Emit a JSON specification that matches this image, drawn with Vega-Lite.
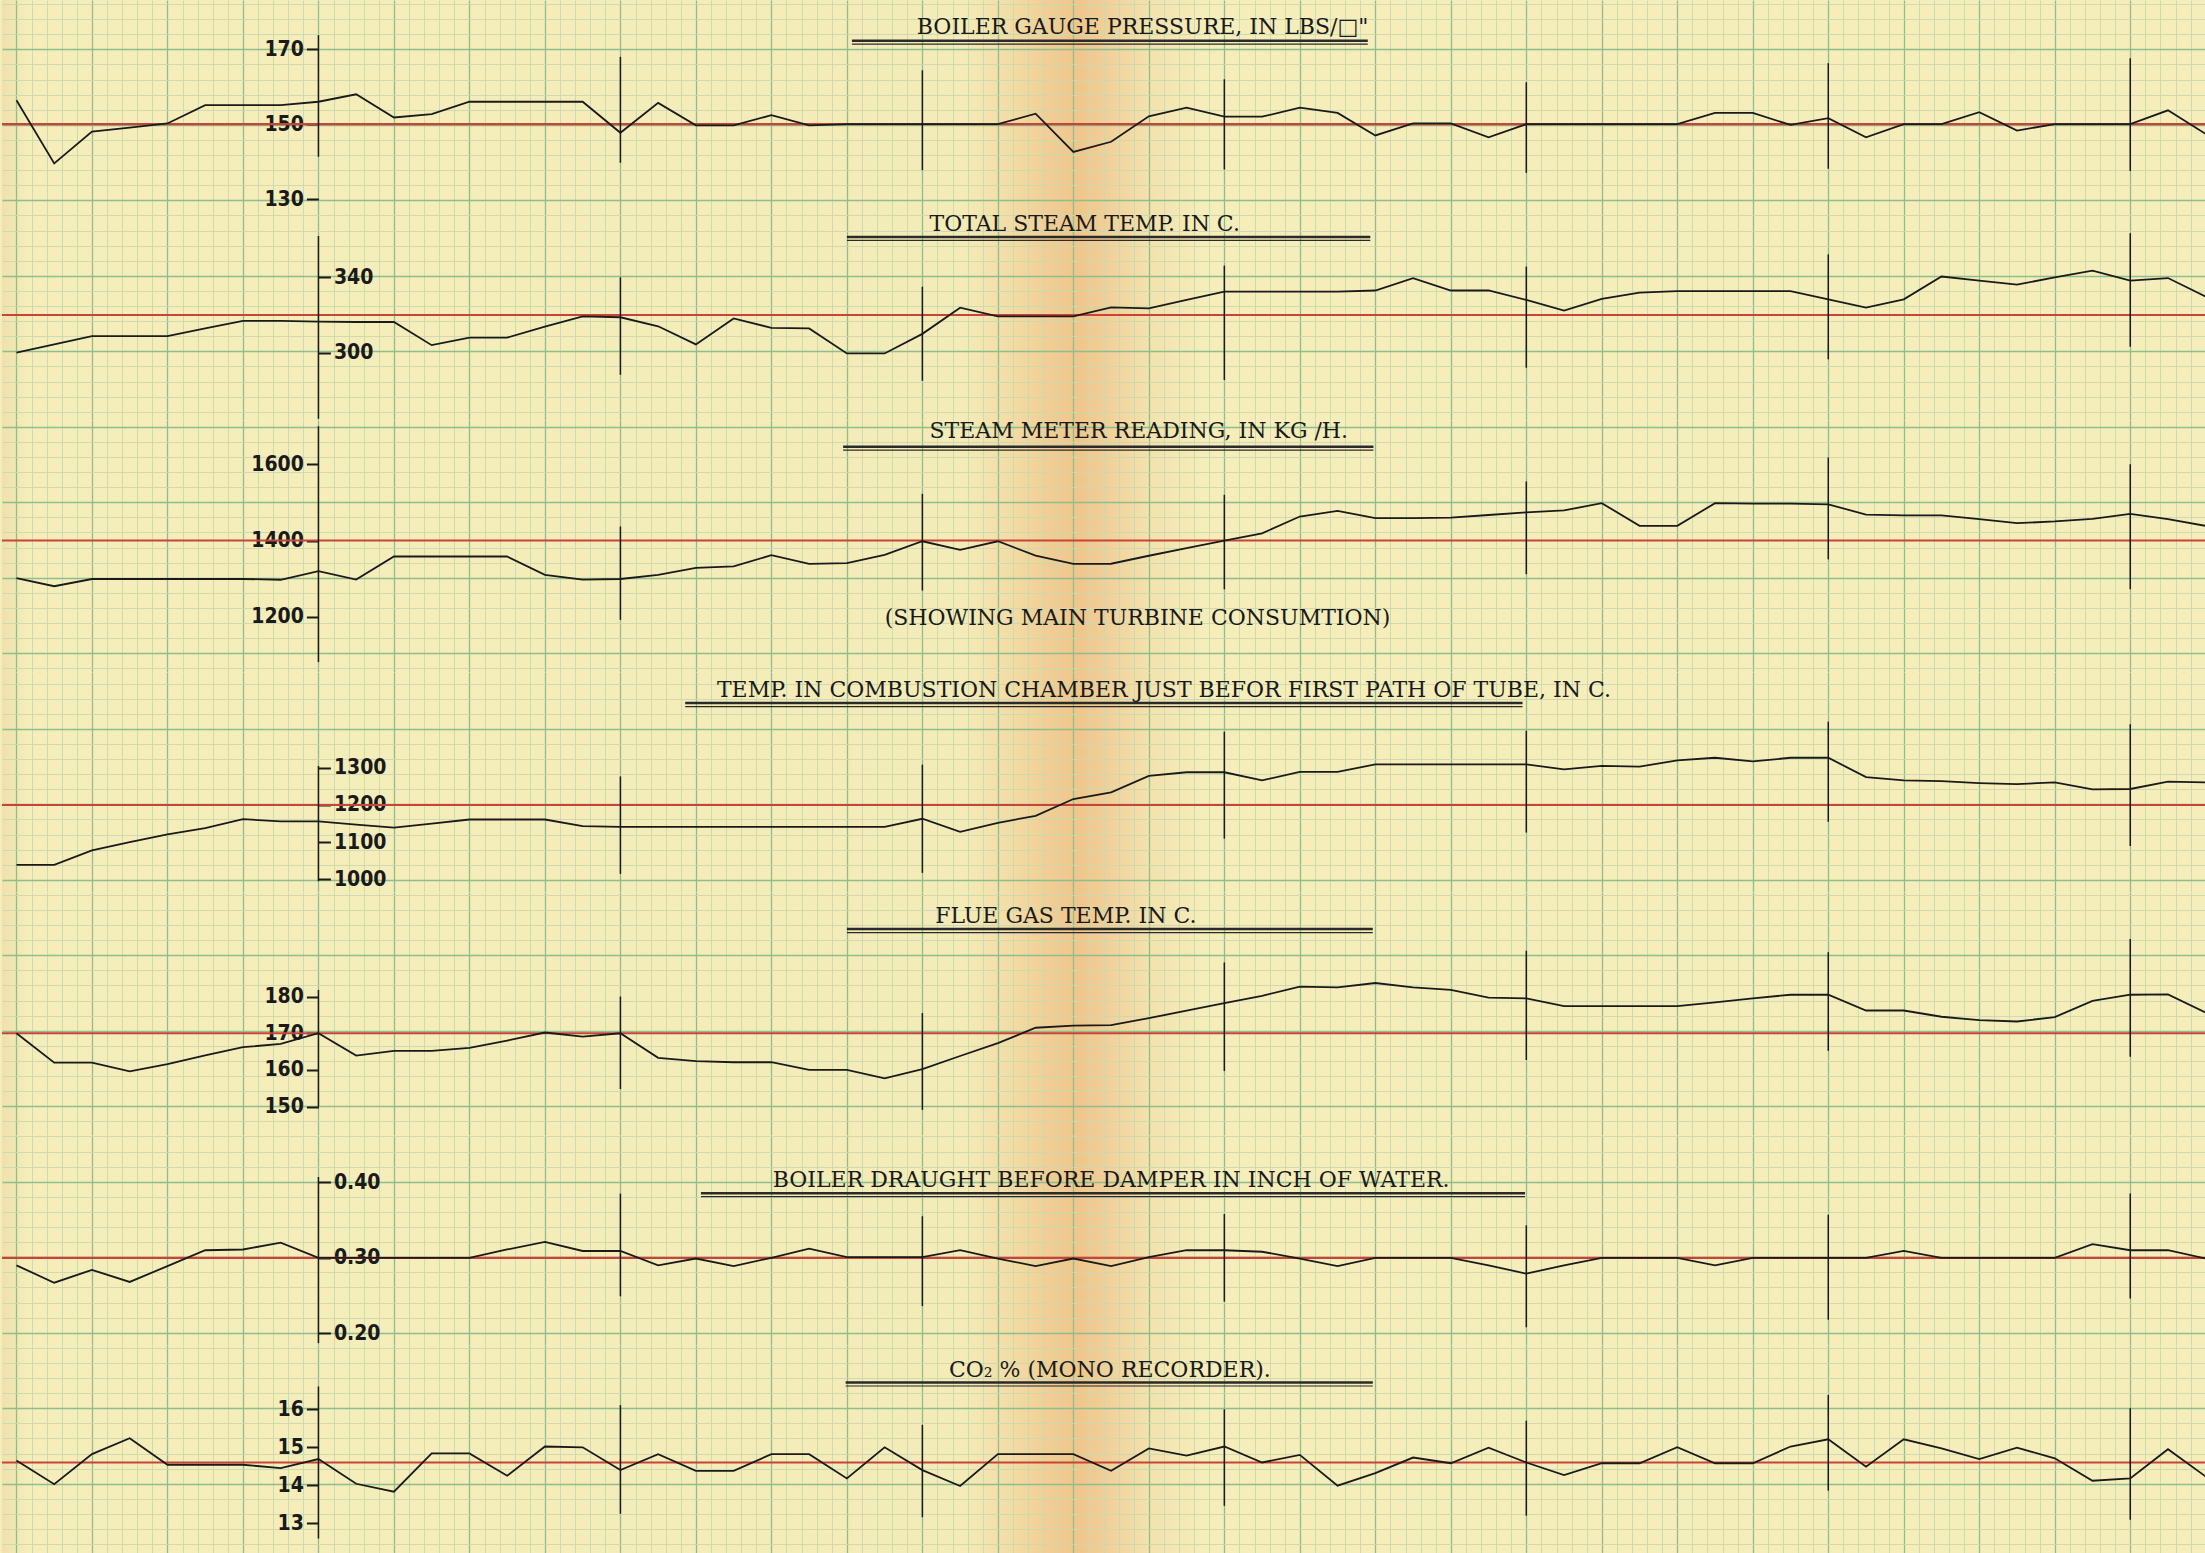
{
"$schema": "https://vega.github.io/schema/vega-lite/v6.json",
"background": "#f5eebb",
"padding": 0,
"spacing": 0,
"bounds": "flush",
"config": {
  "view": {"stroke": null, "fill": {"gradient": "linear", "x1": 0, "y1": 0, "x2": 1, "y2": 0, "stops": [
    {"offset": 0, "color": "#efe1ab"}, {"offset": 0.012, "color": "#f5eebb"}, {"offset": 0.435, "color": "#f4ecb8"},
    {"offset": 0.458, "color": "#f2dca5"}, {"offset": 0.476, "color": "#f0cd94"}, {"offset": 0.488, "color": "#efc68b"},
    {"offset": 0.5, "color": "#f0cf98"}, {"offset": 0.52, "color": "#f3e2ad"}, {"offset": 0.545, "color": "#f5edba"}, {"offset": 1, "color": "#f5eebb"}]}},
  "axis": {"labelFont": "Liberation Sans Narrow, DejaVu Sans Condensed, Liberation Sans", "labelFontSize": 21, "labelFontWeight": "bold", "labelColor": "#1a1a1a", "tickColor": "#1a1a1a", "tickWidth": 2, "tickSize": 12, "labelPadding": 3},
  "text": {"font": "DejaVu Serif", "fontSize": 22, "align": "center", "baseline": "alphabetic", "color": "#1a1a1a"},
  "concat": {"spacing": 0}
},
"datasets": {
  "pressure": [{"h":-24,"v":156.4},{"h":-21,"v":139.5},{"h":-18,"v":148},{"h":-15,"v":149.1},{"h":-12,"v":150.2},{"h":-9,"v":155.1},{"h":-6,"v":155.1},{"h":-3,"v":155.1},{"h":0,"v":156},{"h":3,"v":158},{"h":6,"v":151.8},{"h":9,"v":152.7},{"h":12,"v":156},{"h":15,"v":156},{"h":18,"v":156},{"h":21,"v":156},{"h":24,"v":147.7},{"h":27,"v":155.7},{"h":30,"v":149.7},{"h":33,"v":149.7},{"h":36,"v":152.4},{"h":39,"v":149.7},{"h":42,"v":150},{"h":45,"v":150},{"h":48,"v":150},{"h":51,"v":150},{"h":54,"v":150},{"h":57,"v":152.8},{"h":60,"v":142.6},{"h":63,"v":145.3},{"h":66,"v":152.1},{"h":69,"v":154.4},{"h":72,"v":152},{"h":75,"v":152},{"h":78,"v":154.4},{"h":81,"v":153},{"h":84,"v":147},{"h":87,"v":150.2},{"h":90,"v":150.2},{"h":93,"v":146.5},{"h":96,"v":150},{"h":99,"v":150},{"h":102,"v":150},{"h":105,"v":150},{"h":108,"v":150},{"h":111,"v":153},{"h":114,"v":153},{"h":117,"v":149.8},{"h":120,"v":151.6},{"h":123,"v":146.5},{"h":126,"v":150},{"h":129,"v":150},{"h":132,"v":153.2},{"h":135,"v":148.3},{"h":138,"v":150},{"h":141,"v":150},{"h":144,"v":150},{"h":147,"v":153.7},{"h":150,"v":147.4}],
  "steam_temp": [{"h":-24,"v":300},{"h":-21,"v":304.4},{"h":-18,"v":308.8},{"h":-15,"v":308.8},{"h":-12,"v":308.8},{"h":-9,"v":312.9},{"h":-6,"v":316.9},{"h":-3,"v":316.9},{"h":0,"v":316.5},{"h":3,"v":316.3},{"h":6,"v":316.3},{"h":9,"v":304},{"h":12,"v":308},{"h":15,"v":308},{"h":18,"v":313.8},{"h":21,"v":319.3},{"h":24,"v":318.8},{"h":27,"v":314},{"h":30,"v":304.4},{"h":33,"v":318.2},{"h":36,"v":313.2},{"h":39,"v":312.9},{"h":42,"v":299.6},{"h":45,"v":299.6},{"h":48,"v":310},{"h":51,"v":323.9},{"h":54,"v":319.3},{"h":57,"v":319.3},{"h":60,"v":319.3},{"h":63,"v":324},{"h":66,"v":323.5},{"h":69,"v":328},{"h":72,"v":332.4},{"h":75,"v":332.4},{"h":78,"v":332.4},{"h":81,"v":332.4},{"h":84,"v":333},{"h":87,"v":339.5},{"h":90,"v":333},{"h":93,"v":333},{"h":96,"v":328},{"h":99,"v":322.3},{"h":102,"v":328.5},{"h":105,"v":331.9},{"h":108,"v":332.7},{"h":111,"v":332.7},{"h":114,"v":332.7},{"h":117,"v":332.7},{"h":120,"v":328.3},{"h":123,"v":323.9},{"h":126,"v":328.3},{"h":129,"v":340.4},{"h":132,"v":338.2},{"h":135,"v":336.1},{"h":138,"v":340},{"h":141,"v":343.5},{"h":144,"v":338.2},{"h":147,"v":339.6},{"h":150,"v":329.7}],
  "steam_flow": [{"h":-24,"v":1301},{"h":-21,"v":1280},{"h":-18,"v":1299},{"h":-15,"v":1299},{"h":-12,"v":1299},{"h":-9,"v":1299},{"h":-6,"v":1299},{"h":-3,"v":1297},{"h":0,"v":1319.5},{"h":3,"v":1297.6},{"h":6,"v":1358},{"h":9,"v":1358},{"h":12,"v":1358},{"h":15,"v":1358},{"h":18,"v":1310},{"h":21,"v":1297.6},{"h":24,"v":1299},{"h":27,"v":1310},{"h":30,"v":1328},{"h":33,"v":1332},{"h":36,"v":1361.5},{"h":39,"v":1338.7},{"h":42,"v":1340.5},{"h":45,"v":1362.4},{"h":48,"v":1398},{"h":51,"v":1375.5},{"h":54,"v":1398},{"h":57,"v":1360.6},{"h":60,"v":1338.7},{"h":63,"v":1339},{"h":66,"v":1360},{"h":69,"v":1380},{"h":72,"v":1400},{"h":75,"v":1419},{"h":78,"v":1463},{"h":81,"v":1478},{"h":84,"v":1459},{"h":87,"v":1459},{"h":90,"v":1460},{"h":93,"v":1467},{"h":96,"v":1474},{"h":99,"v":1479},{"h":102,"v":1498},{"h":105,"v":1438.5},{"h":108,"v":1438.5},{"h":111,"v":1498},{"h":114,"v":1497},{"h":117,"v":1497},{"h":120,"v":1495},{"h":123,"v":1468},{"h":126,"v":1466},{"h":129,"v":1466},{"h":132,"v":1456},{"h":135,"v":1445.5},{"h":138,"v":1450},{"h":141,"v":1457},{"h":144,"v":1470},{"h":147,"v":1456},{"h":150,"v":1438.5}],
  "comb_temp": [{"h":-24,"v":1039},{"h":-21,"v":1039},{"h":-18,"v":1078},{"h":-15,"v":1100},{"h":-12,"v":1121},{"h":-9,"v":1138},{"h":-6,"v":1162},{"h":-3,"v":1156},{"h":0,"v":1156},{"h":3,"v":1147},{"h":6,"v":1139},{"h":9,"v":1150},{"h":12,"v":1161},{"h":15,"v":1161},{"h":18,"v":1161},{"h":21,"v":1143},{"h":24,"v":1141},{"h":27,"v":1141},{"h":30,"v":1141},{"h":33,"v":1141},{"h":36,"v":1141},{"h":39,"v":1141},{"h":42,"v":1141},{"h":45,"v":1141},{"h":48,"v":1163},{"h":51,"v":1128},{"h":54,"v":1152},{"h":57,"v":1171},{"h":60,"v":1216},{"h":63,"v":1234},{"h":66,"v":1278},{"h":69,"v":1288},{"h":72,"v":1288},{"h":75,"v":1266},{"h":78,"v":1289},{"h":81,"v":1289},{"h":84,"v":1309},{"h":87,"v":1309},{"h":90,"v":1309},{"h":93,"v":1309},{"h":96,"v":1309},{"h":99,"v":1296},{"h":102,"v":1305},{"h":105,"v":1303},{"h":108,"v":1320},{"h":111,"v":1327},{"h":114,"v":1317},{"h":117,"v":1327},{"h":120,"v":1327},{"h":123,"v":1275},{"h":126,"v":1266},{"h":129,"v":1264},{"h":132,"v":1259},{"h":135,"v":1256},{"h":138,"v":1261},{"h":141,"v":1242},{"h":144,"v":1243},{"h":147,"v":1263},{"h":150,"v":1261}],
  "flue_temp": [{"h":-24,"v":170},{"h":-21,"v":162},{"h":-18,"v":162},{"h":-15,"v":159.6},{"h":-12,"v":161.6},{"h":-9,"v":164},{"h":-6,"v":166.2},{"h":-3,"v":167.1},{"h":0,"v":170},{"h":3,"v":163.9},{"h":6,"v":165.2},{"h":9,"v":165.2},{"h":12,"v":166},{"h":15,"v":168},{"h":18,"v":170.2},{"h":21,"v":169.1},{"h":24,"v":170},{"h":27,"v":163.3},{"h":30,"v":162.4},{"h":33,"v":162.1},{"h":36,"v":162.1},{"h":39,"v":160},{"h":42,"v":160},{"h":45,"v":157.7},{"h":48,"v":160.2},{"h":51,"v":163.8},{"h":54,"v":167.3},{"h":57,"v":171.5},{"h":60,"v":172.1},{"h":63,"v":172.2},{"h":66,"v":174.1},{"h":69,"v":176.2},{"h":72,"v":178.2},{"h":75,"v":180.2},{"h":78,"v":182.7},{"h":81,"v":182.5},{"h":84,"v":183.7},{"h":87,"v":182.5},{"h":90,"v":181.8},{"h":93,"v":179.7},{"h":96,"v":179.5},{"h":99,"v":177.4},{"h":102,"v":177.4},{"h":105,"v":177.4},{"h":108,"v":177.4},{"h":111,"v":178.4},{"h":114,"v":179.5},{"h":117,"v":180.5},{"h":120,"v":180.5},{"h":123,"v":176.2},{"h":126,"v":176.2},{"h":129,"v":174.5},{"h":132,"v":173.6},{"h":135,"v":173.2},{"h":138,"v":174.4},{"h":141,"v":178.8},{"h":144,"v":180.5},{"h":147,"v":180.6},{"h":150,"v":175.6}],
  "draught": [{"h":-24,"v":0.29},{"h":-21,"v":0.267},{"h":-18,"v":0.284},{"h":-15,"v":0.268},{"h":-12,"v":0.289},{"h":-9,"v":0.31},{"h":-6,"v":0.311},{"h":-3,"v":0.32},{"h":0,"v":0.3},{"h":3,"v":0.3},{"h":6,"v":0.3},{"h":9,"v":0.3},{"h":12,"v":0.3},{"h":15,"v":0.311},{"h":18,"v":0.321},{"h":21,"v":0.309},{"h":24,"v":0.309},{"h":27,"v":0.29},{"h":30,"v":0.299},{"h":33,"v":0.289},{"h":36,"v":0.3},{"h":39,"v":0.312},{"h":42,"v":0.301},{"h":45,"v":0.301},{"h":48,"v":0.301},{"h":51,"v":0.31},{"h":54,"v":0.299},{"h":57,"v":0.289},{"h":60,"v":0.299},{"h":63,"v":0.289},{"h":66,"v":0.301},{"h":69,"v":0.31},{"h":72,"v":0.31},{"h":75,"v":0.308},{"h":78,"v":0.299},{"h":81,"v":0.289},{"h":84,"v":0.3},{"h":87,"v":0.3},{"h":90,"v":0.3},{"h":93,"v":0.29},{"h":96,"v":0.279},{"h":99,"v":0.29},{"h":102,"v":0.3},{"h":105,"v":0.3},{"h":108,"v":0.3},{"h":111,"v":0.29},{"h":114,"v":0.3},{"h":117,"v":0.3},{"h":120,"v":0.3},{"h":123,"v":0.3},{"h":126,"v":0.309},{"h":129,"v":0.3},{"h":132,"v":0.3},{"h":135,"v":0.3},{"h":138,"v":0.3},{"h":141,"v":0.318},{"h":144,"v":0.31},{"h":147,"v":0.31},{"h":150,"v":0.299}],
  "co2": [{"h":-24,"v":14.65},{"h":-21,"v":14.03},{"h":-18,"v":14.82},{"h":-15,"v":15.24},{"h":-12,"v":14.54},{"h":-9,"v":14.54},{"h":-6,"v":14.54},{"h":-3,"v":14.45},{"h":0,"v":14.69},{"h":3,"v":14.04},{"h":6,"v":13.83},{"h":9,"v":14.84},{"h":12,"v":14.84},{"h":15,"v":14.25},{"h":18,"v":15.02},{"h":21,"v":15},{"h":24,"v":14.4},{"h":27,"v":14.82},{"h":30,"v":14.38},{"h":33,"v":14.38},{"h":36,"v":14.82},{"h":39,"v":14.82},{"h":42,"v":14.18},{"h":45,"v":15},{"h":48,"v":14.4},{"h":51,"v":13.98},{"h":54,"v":14.82},{"h":57,"v":14.82},{"h":60,"v":14.82},{"h":63,"v":14.38},{"h":66,"v":14.97},{"h":69,"v":14.78},{"h":72,"v":15.02},{"h":75,"v":14.6},{"h":78,"v":14.8},{"h":81,"v":13.99},{"h":84,"v":14.32},{"h":87,"v":14.73},{"h":90,"v":14.58},{"h":93,"v":14.99},{"h":96,"v":14.6},{"h":99,"v":14.27},{"h":102,"v":14.58},{"h":105,"v":14.58},{"h":108,"v":15},{"h":111,"v":14.58},{"h":114,"v":14.58},{"h":117,"v":15.02},{"h":120,"v":15.21},{"h":123,"v":14.49},{"h":126,"v":15.21},{"h":129,"v":14.97},{"h":132,"v":14.69},{"h":135,"v":14.99},{"h":138,"v":14.71},{"h":141,"v":14.12},{"h":144,"v":14.18},{"h":147,"v":14.95},{"h":150,"v":14.23}],
  "markers": [
    {"panel":"pressure","h":0,"lo":141.3,"hi":173.8},{"panel":"pressure","h":24,"lo":139.7,"hi":168},{"panel":"pressure","h":48,"lo":137.7,"hi":164.4},{"panel":"pressure","h":72,"lo":137.9,"hi":162},{"panel":"pressure","h":96,"lo":137,"hi":161.2},{"panel":"pressure","h":120,"lo":138.1,"hi":166.3},{"panel":"pressure","h":144,"lo":137.5,"hi":167.6},
    {"panel":"steam_temp","h":0,"lo":265,"hi":361.9},{"panel":"steam_temp","h":24,"lo":288.3,"hi":340},{"panel":"steam_temp","h":48,"lo":285.1,"hi":335},{"panel":"steam_temp","h":72,"lo":285.5,"hi":346.2},{"panel":"steam_temp","h":96,"lo":292,"hi":345.7},{"panel":"steam_temp","h":120,"lo":296.5,"hi":352.2},{"panel":"steam_temp","h":144,"lo":303.2,"hi":363.4},
    {"panel":"steam_flow","h":0,"lo":1081,"hi":1700},{"panel":"steam_flow","h":24,"lo":1191.7,"hi":1436.8},{"panel":"steam_flow","h":48,"lo":1268.7,"hi":1522.5},{"panel":"steam_flow","h":72,"lo":1272,"hi":1520},{"panel":"steam_flow","h":96,"lo":1311.6,"hi":1555},{"panel":"steam_flow","h":120,"lo":1350.5,"hi":1618},{"panel":"steam_flow","h":144,"lo":1272,"hi":1600},
    {"panel":"comb_temp","h":0,"lo":995,"hi":1305},{"panel":"comb_temp","h":24,"lo":1014.8,"hi":1276.8},{"panel":"comb_temp","h":48,"lo":1017.5,"hi":1308.4},{"panel":"comb_temp","h":72,"lo":1109.7,"hi":1397},{"panel":"comb_temp","h":96,"lo":1125.9,"hi":1399.6},{"panel":"comb_temp","h":120,"lo":1154.8,"hi":1424},{"panel":"comb_temp","h":144,"lo":1089.8,"hi":1416.8},
    {"panel":"flue_temp","h":0,"lo":150,"hi":181.8},{"panel":"flue_temp","h":24,"lo":154.8,"hi":180},{"panel":"flue_temp","h":48,"lo":149.1,"hi":175.5},{"panel":"flue_temp","h":72,"lo":159.7,"hi":189.3},{"panel":"flue_temp","h":96,"lo":162.7,"hi":192.5},{"panel":"flue_temp","h":120,"lo":165.2,"hi":192.1},{"panel":"flue_temp","h":144,"lo":163.6,"hi":195.7},
    {"panel":"draught","h":0,"lo":0.187,"hi":0.407},{"panel":"draught","h":24,"lo":0.249,"hi":0.385},{"panel":"draught","h":48,"lo":0.236,"hi":0.355},{"panel":"draught","h":72,"lo":0.242,"hi":0.358},{"panel":"draught","h":96,"lo":0.208,"hi":0.343},{"panel":"draught","h":120,"lo":0.218,"hi":0.357},{"panel":"draught","h":144,"lo":0.246,"hi":0.385},
    {"panel":"co2","h":0,"lo":12.6,"hi":16.6},{"panel":"co2","h":24,"lo":13.25,"hi":16.11},{"panel":"co2","h":48,"lo":13.16,"hi":15.59},{"panel":"co2","h":72,"lo":13.46,"hi":16},{"panel":"co2","h":96,"lo":13.2,"hi":15.7},{"panel":"co2","h":120,"lo":13.86,"hi":16.38},{"panel":"co2","h":144,"lo":13.09,"hi":16.03}
  ]
},
"vconcat": [
{
  "width": 2205, "height": 215,
  "resolve": {"scale": {"x": "independent", "y": "independent"}},
  "layer": [
    {"data": {"values": [{}]}, "mark": {"type": "rule", "strokeOpacity": 0},
     "encoding": {"y": {"datum": 0, "type": "quantitative", "scale": {"domain": [-3.265, 10.972], "reverse": true, "nice": false, "zero": false},
       "axis": {"orient": "right", "title": null, "labels": false, "ticks": false, "domain": false, "grid": true, "values": [-3,-2,-1,0,1,2,3,4,5,6,7,8,9,10],
         "gridColor": {"condition": {"test": "datum.value % 5 === 0", "value": "#8fbd8b"}, "value": "#cbd8ae"},
         "gridWidth": {"condition": {"test": "datum.value % 5 === 0", "value": 1.3}, "value": 0.9}}}}},
    {"data": {"values": [{"ref": 150}]}, "mark": {"type": "rule", "color": "#c8443a", "strokeWidth": 2.2},
     "encoding": {"y": {"field": "ref", "type": "quantitative", "scale": {"domain": [125.74, 183.18], "nice": false, "zero": false}, "axis": null}}},
    {"data": {"name": "markers"}, "transform": [{"filter": "datum.panel === 'pressure'"}], "mark": {"type": "rule", "color": "#1a1a1a", "strokeWidth": 1.5},
     "encoding": {"x": {"field": "h", "type": "quantitative", "scale": {"domain": [-25.15, 150.1], "nice": false, "zero": false}, "axis": null},
       "y": {"field": "lo", "type": "quantitative", "scale": {"domain": [125.74, 183.18], "nice": false, "zero": false}, "axis": null}, "y2": {"field": "hi"}}},
    {"data": {"name": "pressure"}, "mark": {"type": "line", "color": "#1a1a1a", "strokeWidth": 1.8},
     "encoding": {"x": {"field": "h", "type": "quantitative", "scale": {"domain": [-25.15, 150.1], "nice": false, "zero": false},
         "axis": {"orient": "bottom", "title": null, "labels": false, "ticks": false, "domain": false, "grid": true,
           "values": [-24,-22.8,-21.6,-20.4,-19.2,-18,-16.8,-15.6,-14.4,-13.2,-12,-10.8,-9.6,-8.4,-7.2,-6,-4.8,-3.6,-2.4,-1.2,0,1.2,2.4,3.6,4.8,6,7.2,8.4,9.6,10.8,12,13.2,14.4,15.6,16.8,18,19.2,20.4,21.6,22.8,24,25.2,26.4,27.6,28.8,30,31.2,32.4,33.6,34.8,36,37.2,38.4,39.6,40.8,42,43.2,44.4,45.6,46.8,48,49.2,50.4,51.6,52.8,54,55.2,56.4,57.6,58.8,60,61.2,62.4,63.6,64.8,66,67.2,68.4,69.6,70.8,72,73.2,74.4,75.6,76.8,78,79.2,80.4,81.6,82.8,84,85.2,86.4,87.6,88.8,90,91.2,92.4,93.6,94.8,96,97.2,98.4,99.6,100.8,102,103.2,104.4,105.6,106.8,108,109.2,110.4,111.6,112.8,114,115.2,116.4,117.6,118.8,120,121.2,122.4,123.6,124.8,126,127.2,128.4,129.6,130.8,132,133.2,134.4,135.6,136.8,138,139.2,140.4,141.6,142.8,144,145.2,146.4,147.6,148.8,150],
           "gridColor": {"condition": {"test": "abs(datum.value % 6) < 0.01", "value": "#8fbd8b"}, "value": "#cbd8ae"},
           "gridWidth": {"condition": {"test": "abs(datum.value % 6) < 0.01", "value": 1.3}, "value": 0.9}}},
       "y": {"field": "v", "type": "quantitative", "scale": {"domain": [125.74, 183.18], "nice": false, "zero": false},
         "axis": {"orient": "left", "offset": -316.4, "values": [130, 150, 170], "format": "d", "title": null, "domain": false, "grid": false}}}},
    {"data": {"values": [{"t": "BOILER GAUGE PRESSURE, IN LBS/□\""}]}, "mark": {"type": "text"},
     "encoding": {"x": {"datum": 65.5, "type": "quantitative", "scale": {"domain": [-25.15, 150.1], "nice": false, "zero": false}, "axis": null},
       "y": {"datum": 174.0, "type": "quantitative", "scale": {"domain": [125.74, 183.18], "nice": false, "zero": false}, "axis": null}, "text": {"field": "t"}}},
    {"data": {"values": [{}]}, "mark": {"type": "rule", "color": "#2a2a2a", "strokeWidth": 2.4},
     "encoding": {"x": {"datum": 42.4, "type": "quantitative", "scale": {"domain": [-25.15, 150.1], "nice": false, "zero": false}, "axis": null}, "x2": {"datum": 83.4},
       "y": {"datum": 172.3, "type": "quantitative", "scale": {"domain": [125.74, 183.18], "nice": false, "zero": false}, "axis": null}}},
    {"data": {"values": [{}]}, "mark": {"type": "rule", "color": "#2a2a2a", "strokeWidth": 1.2, "yOffset": 3.5},
     "encoding": {"x": {"datum": 42.4, "type": "quantitative", "scale": {"domain": [-25.15, 150.1], "nice": false, "zero": false}, "axis": null}, "x2": {"datum": 83.4},
       "y": {"datum": 172.3, "type": "quantitative", "scale": {"domain": [125.74, 183.18], "nice": false, "zero": false}, "axis": null}}}
  ]
},
{
  "width": 2205, "height": 205,
  "resolve": {"scale": {"x": "independent", "y": "independent"}},
  "layer": [
    {"data": {"values": [{}]}, "mark": {"type": "rule", "strokeOpacity": 0},
     "encoding": {"y": {"datum": 15, "type": "quantitative", "scale": {"domain": [10.972, 24.55], "reverse": true, "nice": false, "zero": false},
       "axis": {"orient": "right", "title": null, "labels": false, "ticks": false, "domain": false, "grid": true, "values": [11,12,13,14,15,16,17,18,19,20,21,22,23,24],
         "gridColor": {"condition": {"test": "datum.value % 5 === 0", "value": "#8fbd8b"}, "value": "#cbd8ae"},
         "gridWidth": {"condition": {"test": "datum.value % 5 === 0", "value": 1.3}, "value": 0.9}}}}},
    {"data": {"values": [{"ref": 320}]}, "mark": {"type": "rule", "color": "#c8443a", "strokeWidth": 2.2},
     "encoding": {"y": {"field": "ref", "type": "quantitative", "scale": {"domain": [264.3, 373.05], "nice": false, "zero": false}, "axis": null}}},
    {"data": {"name": "markers"}, "transform": [{"filter": "datum.panel === 'steam_temp'"}], "mark": {"type": "rule", "color": "#1a1a1a", "strokeWidth": 1.5},
     "encoding": {"x": {"field": "h", "type": "quantitative", "scale": {"domain": [-25.15, 150.1], "nice": false, "zero": false}, "axis": null},
       "y": {"field": "lo", "type": "quantitative", "scale": {"domain": [264.3, 373.05], "nice": false, "zero": false}, "axis": null}, "y2": {"field": "hi"}}},
    {"data": {"name": "steam_temp"}, "mark": {"type": "line", "color": "#1a1a1a", "strokeWidth": 1.8},
     "encoding": {"x": {"field": "h", "type": "quantitative", "scale": {"domain": [-25.15, 150.1], "nice": false, "zero": false},
         "axis": {"orient": "bottom", "title": null, "labels": false, "ticks": false, "domain": false, "grid": true,
           "values": [-24,-22.8,-21.6,-20.4,-19.2,-18,-16.8,-15.6,-14.4,-13.2,-12,-10.8,-9.6,-8.4,-7.2,-6,-4.8,-3.6,-2.4,-1.2,0,1.2,2.4,3.6,4.8,6,7.2,8.4,9.6,10.8,12,13.2,14.4,15.6,16.8,18,19.2,20.4,21.6,22.8,24,25.2,26.4,27.6,28.8,30,31.2,32.4,33.6,34.8,36,37.2,38.4,39.6,40.8,42,43.2,44.4,45.6,46.8,48,49.2,50.4,51.6,52.8,54,55.2,56.4,57.6,58.8,60,61.2,62.4,63.6,64.8,66,67.2,68.4,69.6,70.8,72,73.2,74.4,75.6,76.8,78,79.2,80.4,81.6,82.8,84,85.2,86.4,87.6,88.8,90,91.2,92.4,93.6,94.8,96,97.2,98.4,99.6,100.8,102,103.2,104.4,105.6,106.8,108,109.2,110.4,111.6,112.8,114,115.2,116.4,117.6,118.8,120,121.2,122.4,123.6,124.8,126,127.2,128.4,129.6,130.8,132,133.2,134.4,135.6,136.8,138,139.2,140.4,141.6,142.8,144,145.2,146.4,147.6,148.8,150],
           "gridColor": {"condition": {"test": "abs(datum.value % 6) < 0.01", "value": "#8fbd8b"}, "value": "#cbd8ae"},
           "gridWidth": {"condition": {"test": "abs(datum.value % 6) < 0.01", "value": 1.3}, "value": 0.9}}},
       "y": {"field": "v", "type": "quantitative", "scale": {"domain": [264.3, 373.05], "nice": false, "zero": false},
         "axis": {"orient": "right", "offset": -1888.6, "values": [300, 340], "format": "d", "title": null, "domain": false, "grid": false}}}},
    {"data": {"values": [{"t": "TOTAL STEAM TEMP. IN C."}]}, "mark": {"type": "text"},
     "encoding": {"x": {"datum": 60.9, "type": "quantitative", "scale": {"domain": [-25.15, 150.1], "nice": false, "zero": false}, "axis": null},
       "y": {"datum": 364.7, "type": "quantitative", "scale": {"domain": [264.3, 373.05], "nice": false, "zero": false}, "axis": null}, "text": {"field": "t"}}},
    {"data": {"values": [{}]}, "mark": {"type": "rule", "color": "#2a2a2a", "strokeWidth": 2.4},
     "encoding": {"x": {"datum": 42.0, "type": "quantitative", "scale": {"domain": [-25.15, 150.1], "nice": false, "zero": false}, "axis": null}, "x2": {"datum": 83.6},
       "y": {"datum": 361.4, "type": "quantitative", "scale": {"domain": [264.3, 373.05], "nice": false, "zero": false}, "axis": null}}},
    {"data": {"values": [{}]}, "mark": {"type": "rule", "color": "#2a2a2a", "strokeWidth": 1.2, "yOffset": 3.5},
     "encoding": {"x": {"datum": 42.0, "type": "quantitative", "scale": {"domain": [-25.15, 150.1], "nice": false, "zero": false}, "axis": null}, "x2": {"datum": 83.6},
       "y": {"datum": 361.4, "type": "quantitative", "scale": {"domain": [264.3, 373.05], "nice": false, "zero": false}, "axis": null}}}
  ]
},
{
  "width": 2205, "height": 252,
  "resolve": {"scale": {"x": "independent", "y": "independent"}},
  "layer": [
    {"data": {"values": [{}]}, "mark": {"type": "rule", "strokeOpacity": 0},
     "encoding": {"y": {"datum": 30, "type": "quantitative", "scale": {"domain": [24.55, 41.238], "reverse": true, "nice": false, "zero": false},
       "axis": {"orient": "right", "title": null, "labels": false, "ticks": false, "domain": false, "grid": true, "values": [25,26,27,28,29,30,31,32,33,34,35,36,37,38,39,40,41],
         "gridColor": {"condition": {"test": "datum.value % 5 === 0", "value": "#8fbd8b"}, "value": "#cbd8ae"},
         "gridWidth": {"condition": {"test": "datum.value % 5 === 0", "value": 1.3}, "value": 0.9}}}}},
    {"data": {"values": [{"ref": 1400}]}, "mark": {"type": "rule", "color": "#c8443a", "strokeWidth": 2.2},
     "encoding": {"y": {"field": "ref", "type": "quantitative", "scale": {"domain": [1054.9, 1716.3], "nice": false, "zero": false}, "axis": null}}},
    {"data": {"name": "markers"}, "transform": [{"filter": "datum.panel === 'steam_flow'"}], "mark": {"type": "rule", "color": "#1a1a1a", "strokeWidth": 1.5},
     "encoding": {"x": {"field": "h", "type": "quantitative", "scale": {"domain": [-25.15, 150.1], "nice": false, "zero": false}, "axis": null},
       "y": {"field": "lo", "type": "quantitative", "scale": {"domain": [1054.9, 1716.3], "nice": false, "zero": false}, "axis": null}, "y2": {"field": "hi"}}},
    {"data": {"name": "steam_flow"}, "mark": {"type": "line", "color": "#1a1a1a", "strokeWidth": 1.8},
     "encoding": {"x": {"field": "h", "type": "quantitative", "scale": {"domain": [-25.15, 150.1], "nice": false, "zero": false},
         "axis": {"orient": "bottom", "title": null, "labels": false, "ticks": false, "domain": false, "grid": true,
           "values": [-24,-22.8,-21.6,-20.4,-19.2,-18,-16.8,-15.6,-14.4,-13.2,-12,-10.8,-9.6,-8.4,-7.2,-6,-4.8,-3.6,-2.4,-1.2,0,1.2,2.4,3.6,4.8,6,7.2,8.4,9.6,10.8,12,13.2,14.4,15.6,16.8,18,19.2,20.4,21.6,22.8,24,25.2,26.4,27.6,28.8,30,31.2,32.4,33.6,34.8,36,37.2,38.4,39.6,40.8,42,43.2,44.4,45.6,46.8,48,49.2,50.4,51.6,52.8,54,55.2,56.4,57.6,58.8,60,61.2,62.4,63.6,64.8,66,67.2,68.4,69.6,70.8,72,73.2,74.4,75.6,76.8,78,79.2,80.4,81.6,82.8,84,85.2,86.4,87.6,88.8,90,91.2,92.4,93.6,94.8,96,97.2,98.4,99.6,100.8,102,103.2,104.4,105.6,106.8,108,109.2,110.4,111.6,112.8,114,115.2,116.4,117.6,118.8,120,121.2,122.4,123.6,124.8,126,127.2,128.4,129.6,130.8,132,133.2,134.4,135.6,136.8,138,139.2,140.4,141.6,142.8,144,145.2,146.4,147.6,148.8,150],
           "gridColor": {"condition": {"test": "abs(datum.value % 6) < 0.01", "value": "#8fbd8b"}, "value": "#cbd8ae"},
           "gridWidth": {"condition": {"test": "abs(datum.value % 6) < 0.01", "value": 1.3}, "value": 0.9}}},
       "y": {"field": "v", "type": "quantitative", "scale": {"domain": [1054.9, 1716.3], "nice": false, "zero": false},
         "axis": {"orient": "left", "offset": -316.4, "values": [1200, 1400, 1600], "format": "d", "title": null, "domain": false, "grid": false}}}},
    {"data": {"values": [{"t": "STEAM METER READING, IN KG /H."}]}, "mark": {"type": "text"},
     "encoding": {"x": {"datum": 65.2, "type": "quantitative", "scale": {"domain": [-25.15, 150.1], "nice": false, "zero": false}, "axis": null},
       "y": {"datum": 1668.2, "type": "quantitative", "scale": {"domain": [1054.9, 1716.3], "nice": false, "zero": false}, "axis": null}, "text": {"field": "t"}}},
    {"data": {"values": [{"t": "(SHOWING MAIN TURBINE CONSUMTION)"}]}, "mark": {"type": "text"},
     "encoding": {"x": {"datum": 65.1, "type": "quantitative", "scale": {"domain": [-25.15, 150.1], "nice": false, "zero": false}, "axis": null},
       "y": {"datum": 1178.2, "type": "quantitative", "scale": {"domain": [1054.9, 1716.3], "nice": false, "zero": false}, "axis": null}, "text": {"field": "t"}}},
    {"data": {"values": [{}]}, "mark": {"type": "rule", "color": "#2a2a2a", "strokeWidth": 2.4},
     "encoding": {"x": {"datum": 41.7, "type": "quantitative", "scale": {"domain": [-25.15, 150.1], "nice": false, "zero": false}, "axis": null}, "x2": {"datum": 83.85},
       "y": {"datum": 1646.2, "type": "quantitative", "scale": {"domain": [1054.9, 1716.3], "nice": false, "zero": false}, "axis": null}}},
    {"data": {"values": [{}]}, "mark": {"type": "rule", "color": "#2a2a2a", "strokeWidth": 1.2, "yOffset": 3.5},
     "encoding": {"x": {"datum": 41.7, "type": "quantitative", "scale": {"domain": [-25.15, 150.1], "nice": false, "zero": false}, "axis": null}, "x2": {"datum": 83.85},
       "y": {"datum": 1646.2, "type": "quantitative", "scale": {"domain": [1054.9, 1716.3], "nice": false, "zero": false}, "axis": null}}}
  ]
},
{
  "width": 2205, "height": 220,
  "resolve": {"scale": {"x": "independent", "y": "independent"}},
  "layer": [
    {"data": {"values": [{}]}, "mark": {"type": "rule", "strokeOpacity": 0},
     "encoding": {"y": {"datum": 45, "type": "quantitative", "scale": {"domain": [41.238, 55.808], "reverse": true, "nice": false, "zero": false},
       "axis": {"orient": "right", "title": null, "labels": false, "ticks": false, "domain": false, "grid": true, "values": [42,43,44,45,46,47,48,49,50,51,52,53,54,55],
         "gridColor": {"condition": {"test": "datum.value % 5 === 0", "value": "#8fbd8b"}, "value": "#cbd8ae"},
         "gridWidth": {"condition": {"test": "datum.value % 5 === 0", "value": 1.3}, "value": 0.9}}}}},
    {"data": {"values": [{"ref": 1200}]}, "mark": {"type": "rule", "color": "#c8443a", "strokeWidth": 2.2},
     "encoding": {"y": {"field": "ref", "type": "quantitative", "scale": {"domain": [966.1, 1557.5], "nice": false, "zero": false}, "axis": null}}},
    {"data": {"name": "markers"}, "transform": [{"filter": "datum.panel === 'comb_temp'"}], "mark": {"type": "rule", "color": "#1a1a1a", "strokeWidth": 1.5},
     "encoding": {"x": {"field": "h", "type": "quantitative", "scale": {"domain": [-25.15, 150.1], "nice": false, "zero": false}, "axis": null},
       "y": {"field": "lo", "type": "quantitative", "scale": {"domain": [966.1, 1557.5], "nice": false, "zero": false}, "axis": null}, "y2": {"field": "hi"}}},
    {"data": {"name": "comb_temp"}, "mark": {"type": "line", "color": "#1a1a1a", "strokeWidth": 1.8},
     "encoding": {"x": {"field": "h", "type": "quantitative", "scale": {"domain": [-25.15, 150.1], "nice": false, "zero": false},
         "axis": {"orient": "bottom", "title": null, "labels": false, "ticks": false, "domain": false, "grid": true,
           "values": [-24,-22.8,-21.6,-20.4,-19.2,-18,-16.8,-15.6,-14.4,-13.2,-12,-10.8,-9.6,-8.4,-7.2,-6,-4.8,-3.6,-2.4,-1.2,0,1.2,2.4,3.6,4.8,6,7.2,8.4,9.6,10.8,12,13.2,14.4,15.6,16.8,18,19.2,20.4,21.6,22.8,24,25.2,26.4,27.6,28.8,30,31.2,32.4,33.6,34.8,36,37.2,38.4,39.6,40.8,42,43.2,44.4,45.6,46.8,48,49.2,50.4,51.6,52.8,54,55.2,56.4,57.6,58.8,60,61.2,62.4,63.6,64.8,66,67.2,68.4,69.6,70.8,72,73.2,74.4,75.6,76.8,78,79.2,80.4,81.6,82.8,84,85.2,86.4,87.6,88.8,90,91.2,92.4,93.6,94.8,96,97.2,98.4,99.6,100.8,102,103.2,104.4,105.6,106.8,108,109.2,110.4,111.6,112.8,114,115.2,116.4,117.6,118.8,120,121.2,122.4,123.6,124.8,126,127.2,128.4,129.6,130.8,132,133.2,134.4,135.6,136.8,138,139.2,140.4,141.6,142.8,144,145.2,146.4,147.6,148.8,150],
           "gridColor": {"condition": {"test": "abs(datum.value % 6) < 0.01", "value": "#8fbd8b"}, "value": "#cbd8ae"},
           "gridWidth": {"condition": {"test": "abs(datum.value % 6) < 0.01", "value": 1.3}, "value": 0.9}}},
       "y": {"field": "v", "type": "quantitative", "scale": {"domain": [966.1, 1557.5], "nice": false, "zero": false},
         "axis": {"orient": "right", "offset": -1888.6, "values": [1000, 1100, 1200, 1300], "format": "d", "title": null, "domain": false, "grid": false}}}},
    {"data": {"values": [{"t": "TEMP. IN COMBUSTION CHAMBER JUST BEFOR FIRST PATH OF TUBE, IN C."}]}, "mark": {"type": "text"},
     "encoding": {"x": {"datum": 67.2, "type": "quantitative", "scale": {"domain": [-25.15, 150.1], "nice": false, "zero": false}, "axis": null},
       "y": {"datum": 1490, "type": "quantitative", "scale": {"domain": [966.1, 1557.5], "nice": false, "zero": false}, "axis": null}, "text": {"field": "t"}}},
    {"data": {"values": [{}]}, "mark": {"type": "rule", "color": "#2a2a2a", "strokeWidth": 2.4},
     "encoding": {"x": {"datum": 29.15, "type": "quantitative", "scale": {"domain": [-25.15, 150.1], "nice": false, "zero": false}, "axis": null}, "x2": {"datum": 95.7},
       "y": {"datum": 1474, "type": "quantitative", "scale": {"domain": [966.1, 1557.5], "nice": false, "zero": false}, "axis": null}}},
    {"data": {"values": [{}]}, "mark": {"type": "rule", "color": "#2a2a2a", "strokeWidth": 1.2, "yOffset": 3.5},
     "encoding": {"x": {"datum": 29.15, "type": "quantitative", "scale": {"domain": [-25.15, 150.1], "nice": false, "zero": false}, "axis": null}, "x2": {"datum": 95.7},
       "y": {"datum": 1474, "type": "quantitative", "scale": {"domain": [966.1, 1557.5], "nice": false, "zero": false}, "axis": null}}}
  ]
},
{
  "width": 2205, "height": 243,
  "resolve": {"scale": {"x": "independent", "y": "independent"}},
  "layer": [
    {"data": {"values": [{}]}, "mark": {"type": "rule", "strokeOpacity": 0},
     "encoding": {"y": {"datum": 60, "type": "quantitative", "scale": {"domain": [55.808, 71.901], "reverse": true, "nice": false, "zero": false},
       "axis": {"orient": "right", "title": null, "labels": false, "ticks": false, "domain": false, "grid": true, "values": [56,57,58,59,60,61,62,63,64,65,66,67,68,69,70,71],
         "gridColor": {"condition": {"test": "datum.value % 5 === 0", "value": "#8fbd8b"}, "value": "#cbd8ae"},
         "gridWidth": {"condition": {"test": "datum.value % 5 === 0", "value": 1.3}, "value": 0.9}}}}},
    {"data": {"values": [{"ref": 170}]}, "mark": {"type": "rule", "color": "#c8443a", "strokeWidth": 2.2},
     "encoding": {"y": {"field": "ref", "type": "quantitative", "scale": {"domain": [142.27, 208.5], "nice": false, "zero": false}, "axis": null}}},
    {"data": {"name": "markers"}, "transform": [{"filter": "datum.panel === 'flue_temp'"}], "mark": {"type": "rule", "color": "#1a1a1a", "strokeWidth": 1.5},
     "encoding": {"x": {"field": "h", "type": "quantitative", "scale": {"domain": [-25.15, 150.1], "nice": false, "zero": false}, "axis": null},
       "y": {"field": "lo", "type": "quantitative", "scale": {"domain": [142.27, 208.5], "nice": false, "zero": false}, "axis": null}, "y2": {"field": "hi"}}},
    {"data": {"name": "flue_temp"}, "mark": {"type": "line", "color": "#1a1a1a", "strokeWidth": 1.8},
     "encoding": {"x": {"field": "h", "type": "quantitative", "scale": {"domain": [-25.15, 150.1], "nice": false, "zero": false},
         "axis": {"orient": "bottom", "title": null, "labels": false, "ticks": false, "domain": false, "grid": true,
           "values": [-24,-22.8,-21.6,-20.4,-19.2,-18,-16.8,-15.6,-14.4,-13.2,-12,-10.8,-9.6,-8.4,-7.2,-6,-4.8,-3.6,-2.4,-1.2,0,1.2,2.4,3.6,4.8,6,7.2,8.4,9.6,10.8,12,13.2,14.4,15.6,16.8,18,19.2,20.4,21.6,22.8,24,25.2,26.4,27.6,28.8,30,31.2,32.4,33.6,34.8,36,37.2,38.4,39.6,40.8,42,43.2,44.4,45.6,46.8,48,49.2,50.4,51.6,52.8,54,55.2,56.4,57.6,58.8,60,61.2,62.4,63.6,64.8,66,67.2,68.4,69.6,70.8,72,73.2,74.4,75.6,76.8,78,79.2,80.4,81.6,82.8,84,85.2,86.4,87.6,88.8,90,91.2,92.4,93.6,94.8,96,97.2,98.4,99.6,100.8,102,103.2,104.4,105.6,106.8,108,109.2,110.4,111.6,112.8,114,115.2,116.4,117.6,118.8,120,121.2,122.4,123.6,124.8,126,127.2,128.4,129.6,130.8,132,133.2,134.4,135.6,136.8,138,139.2,140.4,141.6,142.8,144,145.2,146.4,147.6,148.8,150],
           "gridColor": {"condition": {"test": "abs(datum.value % 6) < 0.01", "value": "#8fbd8b"}, "value": "#cbd8ae"},
           "gridWidth": {"condition": {"test": "abs(datum.value % 6) < 0.01", "value": 1.3}, "value": 0.9}}},
       "y": {"field": "v", "type": "quantitative", "scale": {"domain": [142.27, 208.5], "nice": false, "zero": false},
         "axis": {"orient": "left", "offset": -316.4, "values": [150, 160, 170, 180], "format": "d", "title": null, "domain": false, "grid": false}}}},
    {"data": {"values": [{"t": "FLUE GAS TEMP. IN C."}]}, "mark": {"type": "text"},
     "encoding": {"x": {"datum": 59.4, "type": "quantitative", "scale": {"domain": [-25.15, 150.1], "nice": false, "zero": false}, "axis": null},
       "y": {"datum": 200.0, "type": "quantitative", "scale": {"domain": [142.27, 208.5], "nice": false, "zero": false}, "axis": null}, "text": {"field": "t"}}},
    {"data": {"values": [{}]}, "mark": {"type": "rule", "color": "#2a2a2a", "strokeWidth": 2.4},
     "encoding": {"x": {"datum": 42.0, "type": "quantitative", "scale": {"domain": [-25.15, 150.1], "nice": false, "zero": false}, "axis": null}, "x2": {"datum": 83.8},
       "y": {"datum": 198.4, "type": "quantitative", "scale": {"domain": [142.27, 208.5], "nice": false, "zero": false}, "axis": null}}},
    {"data": {"values": [{}]}, "mark": {"type": "rule", "color": "#2a2a2a", "strokeWidth": 1.2, "yOffset": 3.5},
     "encoding": {"x": {"datum": 42.0, "type": "quantitative", "scale": {"domain": [-25.15, 150.1], "nice": false, "zero": false}, "axis": null}, "x2": {"datum": 83.8},
       "y": {"datum": 198.4, "type": "quantitative", "scale": {"domain": [142.27, 208.5], "nice": false, "zero": false}, "axis": null}}}
  ]
},
{
  "width": 2205, "height": 210,
  "resolve": {"scale": {"x": "independent", "y": "independent"}},
  "layer": [
    {"data": {"values": [{}]}, "mark": {"type": "rule", "strokeOpacity": 0},
     "encoding": {"y": {"datum": 75, "type": "quantitative", "scale": {"domain": [71.901, 85.808], "reverse": true, "nice": false, "zero": false},
       "axis": {"orient": "right", "title": null, "labels": false, "ticks": false, "domain": false, "grid": true, "values": [72,73,74,75,76,77,78,79,80,81,82,83,84,85],
         "gridColor": {"condition": {"test": "datum.value % 5 === 0", "value": "#8fbd8b"}, "value": "#cbd8ae"},
         "gridWidth": {"condition": {"test": "datum.value % 5 === 0", "value": 1.3}, "value": 0.9}}}}},
    {"data": {"values": [{"ref": 0.3}]}, "mark": {"type": "rule", "color": "#c8443a", "strokeWidth": 2.2},
     "encoding": {"y": {"field": "ref", "type": "quantitative", "scale": {"domain": [0.1845, 0.4626], "nice": false, "zero": false}, "axis": null}}},
    {"data": {"name": "markers"}, "transform": [{"filter": "datum.panel === 'draught'"}], "mark": {"type": "rule", "color": "#1a1a1a", "strokeWidth": 1.5},
     "encoding": {"x": {"field": "h", "type": "quantitative", "scale": {"domain": [-25.15, 150.1], "nice": false, "zero": false}, "axis": null},
       "y": {"field": "lo", "type": "quantitative", "scale": {"domain": [0.1845, 0.4626], "nice": false, "zero": false}, "axis": null}, "y2": {"field": "hi"}}},
    {"data": {"name": "draught"}, "mark": {"type": "line", "color": "#1a1a1a", "strokeWidth": 1.8},
     "encoding": {"x": {"field": "h", "type": "quantitative", "scale": {"domain": [-25.15, 150.1], "nice": false, "zero": false},
         "axis": {"orient": "bottom", "title": null, "labels": false, "ticks": false, "domain": false, "grid": true,
           "values": [-24,-22.8,-21.6,-20.4,-19.2,-18,-16.8,-15.6,-14.4,-13.2,-12,-10.8,-9.6,-8.4,-7.2,-6,-4.8,-3.6,-2.4,-1.2,0,1.2,2.4,3.6,4.8,6,7.2,8.4,9.6,10.8,12,13.2,14.4,15.6,16.8,18,19.2,20.4,21.6,22.8,24,25.2,26.4,27.6,28.8,30,31.2,32.4,33.6,34.8,36,37.2,38.4,39.6,40.8,42,43.2,44.4,45.6,46.8,48,49.2,50.4,51.6,52.8,54,55.2,56.4,57.6,58.8,60,61.2,62.4,63.6,64.8,66,67.2,68.4,69.6,70.8,72,73.2,74.4,75.6,76.8,78,79.2,80.4,81.6,82.8,84,85.2,86.4,87.6,88.8,90,91.2,92.4,93.6,94.8,96,97.2,98.4,99.6,100.8,102,103.2,104.4,105.6,106.8,108,109.2,110.4,111.6,112.8,114,115.2,116.4,117.6,118.8,120,121.2,122.4,123.6,124.8,126,127.2,128.4,129.6,130.8,132,133.2,134.4,135.6,136.8,138,139.2,140.4,141.6,142.8,144,145.2,146.4,147.6,148.8,150],
           "gridColor": {"condition": {"test": "abs(datum.value % 6) < 0.01", "value": "#8fbd8b"}, "value": "#cbd8ae"},
           "gridWidth": {"condition": {"test": "abs(datum.value % 6) < 0.01", "value": 1.3}, "value": 0.9}}},
       "y": {"field": "v", "type": "quantitative", "scale": {"domain": [0.1845, 0.4626], "nice": false, "zero": false},
         "axis": {"orient": "right", "offset": -1888.6, "values": [0.2, 0.3, 0.4], "format": ".2f", "title": null, "domain": false, "grid": false}}}},
    {"data": {"values": [{"t": "BOILER DRAUGHT BEFORE DAMPER IN INCH OF WATER."}]}, "mark": {"type": "text"},
     "encoding": {"x": {"datum": 63.0, "type": "quantitative", "scale": {"domain": [-25.15, 150.1], "nice": false, "zero": false}, "axis": null},
       "y": {"datum": 0.3942, "type": "quantitative", "scale": {"domain": [0.1845, 0.4626], "nice": false, "zero": false}, "axis": null}, "text": {"field": "t"}}},
    {"data": {"values": [{}]}, "mark": {"type": "rule", "color": "#2a2a2a", "strokeWidth": 2.4},
     "encoding": {"x": {"datum": 30.4, "type": "quantitative", "scale": {"domain": [-25.15, 150.1], "nice": false, "zero": false}, "axis": null}, "x2": {"datum": 95.9},
       "y": {"datum": 0.3855, "type": "quantitative", "scale": {"domain": [0.1845, 0.4626], "nice": false, "zero": false}, "axis": null}}},
    {"data": {"values": [{}]}, "mark": {"type": "rule", "color": "#2a2a2a", "strokeWidth": 1.2, "yOffset": 3.5},
     "encoding": {"x": {"datum": 30.4, "type": "quantitative", "scale": {"domain": [-25.15, 150.1], "nice": false, "zero": false}, "axis": null}, "x2": {"datum": 95.9},
       "y": {"datum": 0.3855, "type": "quantitative", "scale": {"domain": [0.1845, 0.4626], "nice": false, "zero": false}, "axis": null}}}
  ]
},
{
  "width": 2205, "height": 208,
  "resolve": {"scale": {"x": "independent", "y": "independent"}},
  "layer": [
    {"data": {"values": [{}]}, "mark": {"type": "rule", "strokeOpacity": 0},
     "encoding": {"y": {"datum": 90, "type": "quantitative", "scale": {"domain": [85.808, 99.583], "reverse": true, "nice": false, "zero": false},
       "axis": {"orient": "right", "title": null, "labels": false, "ticks": false, "domain": false, "grid": true, "values": [86,87,88,89,90,91,92,93,94,95,96,97,98,99],
         "gridColor": {"condition": {"test": "datum.value % 5 === 0", "value": "#8fbd8b"}, "value": "#cbd8ae"},
         "gridWidth": {"condition": {"test": "datum.value % 5 === 0", "value": 1.3}, "value": 0.9}}}}},
    {"data": {"values": [{"ref": 14.6}]}, "mark": {"type": "rule", "color": "#c8443a", "strokeWidth": 2.2},
     "encoding": {"y": {"field": "ref", "type": "quantitative", "scale": {"domain": [12.218, 17.692], "nice": false, "zero": false}, "axis": null}}},
    {"data": {"name": "markers"}, "transform": [{"filter": "datum.panel === 'co2'"}], "mark": {"type": "rule", "color": "#1a1a1a", "strokeWidth": 1.5},
     "encoding": {"x": {"field": "h", "type": "quantitative", "scale": {"domain": [-25.15, 150.1], "nice": false, "zero": false}, "axis": null},
       "y": {"field": "lo", "type": "quantitative", "scale": {"domain": [12.218, 17.692], "nice": false, "zero": false}, "axis": null}, "y2": {"field": "hi"}}},
    {"data": {"name": "co2"}, "mark": {"type": "line", "color": "#1a1a1a", "strokeWidth": 1.8},
     "encoding": {"x": {"field": "h", "type": "quantitative", "scale": {"domain": [-25.15, 150.1], "nice": false, "zero": false},
         "axis": {"orient": "bottom", "title": null, "labels": false, "ticks": false, "domain": false, "grid": true,
           "values": [-24,-22.8,-21.6,-20.4,-19.2,-18,-16.8,-15.6,-14.4,-13.2,-12,-10.8,-9.6,-8.4,-7.2,-6,-4.8,-3.6,-2.4,-1.2,0,1.2,2.4,3.6,4.8,6,7.2,8.4,9.6,10.8,12,13.2,14.4,15.6,16.8,18,19.2,20.4,21.6,22.8,24,25.2,26.4,27.6,28.8,30,31.2,32.4,33.6,34.8,36,37.2,38.4,39.6,40.8,42,43.2,44.4,45.6,46.8,48,49.2,50.4,51.6,52.8,54,55.2,56.4,57.6,58.8,60,61.2,62.4,63.6,64.8,66,67.2,68.4,69.6,70.8,72,73.2,74.4,75.6,76.8,78,79.2,80.4,81.6,82.8,84,85.2,86.4,87.6,88.8,90,91.2,92.4,93.6,94.8,96,97.2,98.4,99.6,100.8,102,103.2,104.4,105.6,106.8,108,109.2,110.4,111.6,112.8,114,115.2,116.4,117.6,118.8,120,121.2,122.4,123.6,124.8,126,127.2,128.4,129.6,130.8,132,133.2,134.4,135.6,136.8,138,139.2,140.4,141.6,142.8,144,145.2,146.4,147.6,148.8,150],
           "gridColor": {"condition": {"test": "abs(datum.value % 6) < 0.01", "value": "#8fbd8b"}, "value": "#cbd8ae"},
           "gridWidth": {"condition": {"test": "abs(datum.value % 6) < 0.01", "value": 1.3}, "value": 0.9}}},
       "y": {"field": "v", "type": "quantitative", "scale": {"domain": [12.218, 17.692], "nice": false, "zero": false},
         "axis": {"orient": "left", "offset": -316.4, "values": [13, 14, 15, 16], "format": "d", "title": null, "domain": false, "grid": false}}}},
    {"data": {"values": [{"t": "CO₂ % (MONO RECORDER)."}]}, "mark": {"type": "text"},
     "encoding": {"x": {"datum": 62.9, "type": "quantitative", "scale": {"domain": [-25.15, 150.1], "nice": false, "zero": false}, "axis": null},
       "y": {"datum": 16.858, "type": "quantitative", "scale": {"domain": [12.218, 17.692], "nice": false, "zero": false}, "axis": null}, "text": {"field": "t"}}},
    {"data": {"values": [{}]}, "mark": {"type": "rule", "color": "#2a2a2a", "strokeWidth": 2.4},
     "encoding": {"x": {"datum": 41.9, "type": "quantitative", "scale": {"domain": [-25.15, 150.1], "nice": false, "zero": false}, "axis": null}, "x2": {"datum": 83.8},
       "y": {"datum": 16.705, "type": "quantitative", "scale": {"domain": [12.218, 17.692], "nice": false, "zero": false}, "axis": null}}},
    {"data": {"values": [{}]}, "mark": {"type": "rule", "color": "#2a2a2a", "strokeWidth": 1.2, "yOffset": 3.5},
     "encoding": {"x": {"datum": 41.9, "type": "quantitative", "scale": {"domain": [-25.15, 150.1], "nice": false, "zero": false}, "axis": null}, "x2": {"datum": 83.8},
       "y": {"datum": 16.705, "type": "quantitative", "scale": {"domain": [12.218, 17.692], "nice": false, "zero": false}, "axis": null}}}
  ]
}
]
}
